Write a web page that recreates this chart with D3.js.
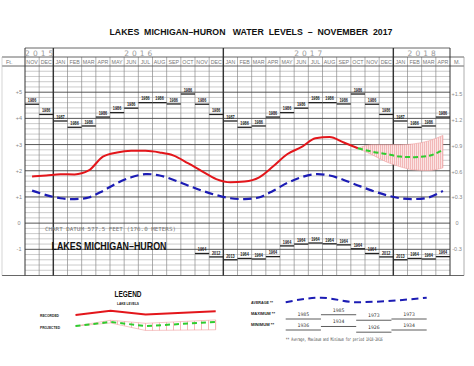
<!DOCTYPE html>
<html><head><meta charset="utf-8">
<script src="https://cdn.jsdelivr.net/npm/d3@7"></script>
<style>
html,body{margin:0;padding:0;background:#fff;}
svg{display:block;font-family:"Liberation Sans",Arial,sans-serif;}
</style></head>
<body><svg id="c" width="474" height="366"></svg>
<script>
// ---- DATA ----
const monthNames = ["JAN","FEB","MAR","APR","MAY","JUN","JUL","AUG","SEP","OCT","NOV","DEC"];
const years = [{label:"2015", start:0, end:2},{label:"2016", start:2, end:14},{label:"2017", start:14, end:26},{label:"2018", start:26, end:30}];
const firstMonth = 10; // NOV 2015
const nMonths = 30;    // NOV 2015 .. APR 2018
// recorded monthly mean levels (ft above chart datum), NOV 2015 .. OCT 2017
const recorded = [1.78,1.82,1.87,1.86,2.01,2.54,2.70,2.76,2.76,2.70,2.58,2.29,1.98,1.68,1.56,1.59,1.74,2.16,2.63,2.90,3.24,3.29,3.08,2.86];
// projection OCT 2017 .. APR 2018
const projected = [2.86,2.73,2.64,2.54,2.52,2.57,2.80];
const projUpper = [2.86,2.99,2.99,2.99,3.03,3.14,3.35];
const projLower = [2.86,2.61,2.34,2.15,2.03,2.01,2.11];
// long-term monthly statistics JAN..DEC (ft)
const avgVals = [0.95,0.92,0.98,1.23,1.53,1.75,1.87,1.82,1.65,1.44,1.24,1.07];
const maxVals = [3.90,3.66,3.71,4.05,4.22,4.39,4.60,4.60,4.55,4.93,4.54,4.15];
const maxYears = ["1987","1986","1986","1986","1986","1986","1986","1986","1986","1986","1986","1986"];
const minVals = [-1.40,-1.35,-1.37,-1.28,-0.87,-0.80,-0.76,-0.79,-0.83,-0.98,-1.16,-1.29];
const minYears = ["2013","1964","1964","1964","1964","1964","1964","1964","1964","1964","1964","2012"];
const minStart = 12; // minima shown from NOV 2016
const ftTicks = [5,4,3,2,1,0,-1];
const ftLabels = ["+5","+4","+3","+2","+1","0","-1"];
const mTicks = [1.5,1.2,0.9,0.6,0.3,0,-0.3];
const mLabels = ["+1.5","+1.2","+0.9","+0.6","+0.3","0","-0.3"];
// legend sample shapes
const legRec = [[0,0.2],[1,0.8],[2,0.25],[4,0.75]];
const legProj = [[0,0.2],[1,0.8],[2,0.2],[4,0.8]];
const legUp = [[0,0.2],[1,1.05],[2,0.6],[4,1.1]];
const legLo = [[0,0.2],[1,0.65],[2,-0.45],[4,-0.35]];
const legAvg = [[0,0.2],[1,0.8],[2,0.2],[4,0.8]];
const legMax = [{y:"1985",v:0.0},{y:"1985",v:0.45},{y:"1973",v:-0.13},{y:"1973",v:0.0}];
const legMin = [{y:"1936",v:0.0},{y:"1934",v:0.37},{y:"1926",v:-0.23},{y:"1934",v:0.0}];

// ---- SCALES ----
const svg = d3.select("#c");
const x = d3.scaleLinear().domain([0, nMonths]).range([25, 450]);
const y = d3.scaleLinear().domain([-2, 6]).range([275.5, 66]);
const xm = i => x(i + 0.5);
const mOf = i => (firstMonth + i) % 12;

// title
svg.append("text").attr("x",251).attr("y",35).attr("text-anchor","middle")
  .attr("font-size",9.5).attr("font-weight","bold").attr("fill","#111")
  .attr("textLength",283).attr("lengthAdjust","spacingAndGlyphs")
  .style("white-space","pre")
  .text("LAKES  MICHIGAN–HURON   WATER  LEVELS  –  NOVEMBER  2017");

// ---- GRID ----
const g = svg.append("g");
const minor = d3.range(-2, 6.001, 0.2).map(v => +v.toFixed(1)).filter(v => Math.abs(v - Math.round(v)) > 0.01);
g.selectAll(".mn").data(minor).join("line")
  .attr("x1",25).attr("x2",450).attr("y1",d=>y(d)).attr("y2",d=>y(d))
  .attr("stroke","#a8a8a8").attr("stroke-width",0.6);
g.selectAll(".vm").data(d3.range(1,nMonths)).join("line")
  .attr("x1",d=>x(d)).attr("x2",d=>x(d)).attr("y1",57).attr("y2",y(-2))
  .attr("stroke","#8a8a8a").attr("stroke-width",0.7);
g.selectAll(".mj").data(d3.range(-1,6)).join("line")
  .attr("x1",25).attr("x2",450).attr("y1",d=>y(d)).attr("y2",d=>y(d))
  .attr("stroke","#444").attr("stroke-width",0.9);
[48].forEach(yy => g.append("line").attr("x1",25).attr("x2",450).attr("y1",yy).attr("y2",yy).attr("stroke","#555").attr("stroke-width",0.9));
[57,66].forEach(yy => g.append("line").attr("x1",2).attr("x2",464).attr("y1",yy).attr("y2",yy).attr("stroke","#555").attr("stroke-width",0.9));
g.append("line").attr("x1",2).attr("x2",464).attr("y1",y(-2)).attr("y2",y(-2)).attr("stroke","#555").attr("stroke-width",0.9);
const divs = [0,2,14,26,30];
g.selectAll(".yd").data(divs).join("line")
  .attr("x1",d=>x(d)).attr("x2",d=>x(d)).attr("y1",48).attr("y2",y(-2))
  .attr("stroke","#333").attr("stroke-width",d=> (d===0||d===30)?1:1.4);
g.append("line").attr("x1",464).attr("x2",464).attr("y1",57).attr("y2",y(-2)).attr("stroke","#999").attr("stroke-width",0.8);
g.append("line").attr("x1",2).attr("x2",2).attr("y1",57).attr("y2",y(-2)).attr("stroke","#bbb").attr("stroke-width",0.6);

// year labels
g.selectAll(".yl").data(years).join("text")
  .attr("x",d=>x((d.start+d.end)/2)+1.5).attr("y",55.5).attr("text-anchor","middle")
  .attr("font-size",7.5).attr("fill","#9a9a9a").attr("letter-spacing",3)
  .attr("font-family","DejaVu Sans, sans-serif").attr("font-weight","normal")
  .text(d=>d.label);
g.selectAll(".ml").data(d3.range(nMonths)).join("text")
  .attr("x",d=>xm(d)).attr("y",63.8).attr("text-anchor","middle")
  .attr("font-size",5.3).attr("fill","#777")
  .text(d=>monthNames[mOf(d)]);
g.append("text").attr("x",6).attr("y",63.8).attr("font-size",5.5).attr("fill","#777").text("Ft.");
g.append("text").attr("x",454).attr("y",63.8).attr("font-size",5.5).attr("fill","#777").text("M.");

g.selectAll(".fl").data(ftTicks).join("text")
  .attr("x",19).attr("y",d=>y(d)+2).attr("text-anchor","middle")
  .attr("font-size",5.5).attr("fill","#888").text((d,i)=>ftLabels[i]);
g.selectAll(".mlb").data(mTicks).join("text")
  .attr("x",457).attr("y",d=>y(d*3.28084)+2).attr("text-anchor","middle")
  .attr("font-size",5.5).attr("fill","#888").text((d,i)=>mLabels[i]);

svg.append("text").attr("x",45).attr("y",231).attr("font-size",5.6).attr("fill","#777")
  .attr("font-family","DejaVu Sans Mono, monospace")
  .attr("textLength",131).attr("lengthAdjust","spacingAndGlyphs")
  .text("CHART DATUM  577.5 FEET (176.0 METERS)");
svg.append("text").attr("x",51.5).attr("y",249.5).attr("font-size",11).attr("font-weight","bold").attr("fill","#111")
  .attr("textLength",115).attr("lengthAdjust","spacingAndGlyphs")
  .text("LAKES MICHIGAN–HURON");

// ---- MAX / MIN bars ----
const maxIdx = d3.range(nMonths);
const mx = svg.append("g");
mx.selectAll("line").data(maxIdx).join("line")
  .attr("x1",d=>x(d)).attr("x2",d=>x(d+1)).attr("y1",d=>y(maxVals[mOf(d)])).attr("y2",d=>y(maxVals[mOf(d)]))
  .attr("stroke","#222").attr("stroke-width",1.3);
mx.selectAll("text").data(maxIdx).join("text")
  .attr("x",d=>xm(d)).attr("y",d=>y(maxVals[mOf(d)])-2.2).attr("text-anchor","middle")
  .attr("font-size",5).attr("font-weight","bold").attr("fill","#222")
  .attr("textLength",8.5).attr("lengthAdjust","spacingAndGlyphs")
  .text(d=>maxYears[mOf(d)]);
const minIdx = d3.range(minStart, nMonths);
const mn = svg.append("g");
mn.selectAll("line").data(minIdx).join("line")
  .attr("x1",d=>x(d)).attr("x2",d=>x(d+1)).attr("y1",d=>y(minVals[mOf(d)])).attr("y2",d=>y(minVals[mOf(d)]))
  .attr("stroke","#222").attr("stroke-width",1.3);
mn.selectAll("text").data(minIdx).join("text")
  .attr("x",d=>xm(d)).attr("y",d=>y(minVals[mOf(d)])-2.2).attr("text-anchor","middle")
  .attr("font-size",5).attr("font-weight","bold").attr("fill","#222")
  .attr("textLength",8.5).attr("lengthAdjust","spacingAndGlyphs")
  .text(d=>minYears[mOf(d)]);

// ---- patterns ----
const defs = svg.append("defs");
const p1 = defs.append("pattern").attr("id","hatch").attr("patternUnits","userSpaceOnUse").attr("width",2).attr("height",4);
p1.append("rect").attr("width",2).attr("height",4).attr("fill","#fbe3e3");
p1.append("line").attr("x1",0.5).attr("x2",0.5).attr("y1",0).attr("y2",4).attr("stroke","#ec9a9a").attr("stroke-width",0.6);
const p2 = defs.append("pattern").attr("id","hatch2").attr("patternUnits","userSpaceOnUse").attr("width",7).attr("height",10).attr("x",75);
p2.append("line").attr("x1",0.5).attr("x2",0.5).attr("y1",0).attr("y2",10).attr("stroke","#f08a8a").attr("stroke-width",0.6);

// ---- series ----
const projIdx = d3.range(23, 23 + projected.length);
const band = d3.area().x((d,i)=>xm(projIdx[i])).y0((d,i)=>y(projLower[i])).y1((d,i)=>y(projUpper[i])).curve(d3.curveMonotoneX);
svg.append("path").datum(projected).attr("d",band).attr("fill","url(#hatch)").attr("stroke","#f0a0a0").attr("stroke-width",0.6);

const avgIdx = d3.range(nMonths);
svg.append("path").datum(avgIdx)
  .attr("d", d3.line().x(d=>xm(d)).y(d=>y(avgVals[mOf(d)])).curve(d3.curveCatmullRom))
  .attr("fill","none").attr("stroke","#1c1cb4").attr("stroke-width",2.2).attr("stroke-dasharray","8.5,4.5");

svg.append("path").datum(recorded)
  .attr("d", d3.line().x((d,i)=>xm(i)).y(d=>y(d)).curve(d3.curveMonotoneX))
  .attr("fill","none").attr("stroke","#e3161b").attr("stroke-width",2);

svg.append("path").datum(projected)
  .attr("d", d3.line().x((d,i)=>xm(projIdx[i])).y(d=>y(d)).curve(d3.curveMonotoneX))
  .attr("fill","none").attr("stroke","#2fcc2f").attr("stroke-width",2).attr("stroke-dasharray","5,3");

// ---- LEGEND ----
const L = svg.append("g");
L.append("text").attr("x",128).attr("y",297).attr("text-anchor","middle").attr("font-size",8.5).attr("font-weight","bold")
  .attr("textLength",27).attr("lengthAdjust","spacingAndGlyphs").attr("fill","#111").text("LEGEND");
L.append("text").attr("x",128).attr("y",304.5).attr("text-anchor","middle").attr("font-size",4).attr("font-weight","bold")
  .attr("textLength",22).attr("lengthAdjust","spacingAndGlyphs").attr("fill","#222").text("LAKE LEVELS");
L.append("text").attr("x",40).attr("y",317.3).attr("font-size",4.3).attr("font-weight","bold")
  .attr("textLength",19).attr("lengthAdjust","spacingAndGlyphs").attr("fill","#222").text("RECORDED");
L.append("text").attr("x",40).attr("y",328.6).attr("font-size",4.3).attr("font-weight","bold")
  .attr("textLength",20).attr("lengthAdjust","spacingAndGlyphs").attr("fill","#222").text("PROJECTED");
const lx = d3.scaleLinear().domain([0,4]).range([75.5,215.7]);
const lyR = d3.scaleLinear().domain([0,1]).range([316.3,309.5]);
const lyP = d3.scaleLinear().domain([0,1]).range([327.4,320.6]);
L.append("path").datum(legUp.map((d,i)=>[d,legLo[i]]))
  .attr("d", d3.area().x(d=>lx(d[0][0])).y1(d=>lyP(d[0][1])).y0(d=>lyP(d[1][1])))
  .attr("fill","url(#hatch2)").attr("stroke","#f0a0a0").attr("stroke-width",0.6);
L.append("path").datum(legRec).attr("d", d3.line().x(d=>lx(d[0])).y(d=>lyR(d[1])))
  .attr("fill","none").attr("stroke","#e3161b").attr("stroke-width",2);
L.append("path").datum(legProj).attr("d", d3.line().x(d=>lx(d[0])).y(d=>lyP(d[1])))
  .attr("fill","none").attr("stroke","#2fcc2f").attr("stroke-width",2).attr("stroke-dasharray","5,4");

const R = svg.append("g");
R.append("text").attr("x",251).attr("y",304.2).attr("font-size",4.3).attr("font-weight","bold")
  .attr("textLength",22).attr("lengthAdjust","spacingAndGlyphs").attr("fill","#222").text("AVERAGE **");
R.append("text").attr("x",251).attr("y",315.2).attr("font-size",4.3).attr("font-weight","bold")
  .attr("textLength",24).attr("lengthAdjust","spacingAndGlyphs").attr("fill","#222").text("MAXIMUM **");
R.append("text").attr("x",251).attr("y",325.8).attr("font-size",4.3).attr("font-weight","bold")
  .attr("textLength",23).attr("lengthAdjust","spacingAndGlyphs").attr("fill","#222").text("MINIMUM **");
const rx = d3.scaleLinear().domain([0,4]).range([285.7,426.7]);
const ryA = d3.scaleLinear().domain([0,1]).range([303.7,296.2]);
R.append("path").datum(legAvg).attr("d", d3.line().x(d=>rx(d[0])).y(d=>ryA(d[1])).curve(d3.curveMonotoneX))
  .attr("fill","none").attr("stroke","#1c1cb4").attr("stroke-width",2).attr("stroke-dasharray","7,4.5");
const ryMax = d3.scaleLinear().domain([0,1]).range([319,309.5]);
const ryMin = d3.scaleLinear().domain([0,1]).range([330,320.5]);
[[legMax,ryMax],[legMin,ryMin]].forEach(([arr,sc])=>{
  R.selectAll(null).data(arr).join("line")
    .attr("x1",(d,i)=>rx(i)).attr("x2",(d,i)=>rx(i+1)).attr("y1",d=>sc(d.v)).attr("y2",d=>sc(d.v))
    .attr("stroke","#333").attr("stroke-width",0.8);
  R.selectAll(null).data(arr).join("text")
    .attr("x",(d,i)=>rx(i+0.5)).attr("y",d=>sc(d.v)-3).attr("text-anchor","middle")
    .attr("font-size",4.8).attr("fill","#333").attr("font-family","DejaVu Sans Mono, monospace")
    .text(d=>d.y);
});
R.append("text").attr("x",285.7).attr("y",341).attr("font-size",4.8).attr("fill","#444")
  .attr("font-family","DejaVu Sans Mono, monospace")
  .attr("textLength",97).attr("lengthAdjust","spacingAndGlyphs")
  .text("** Average, Maximum and Minimum for period 1918-2016");
</script></body></html>
